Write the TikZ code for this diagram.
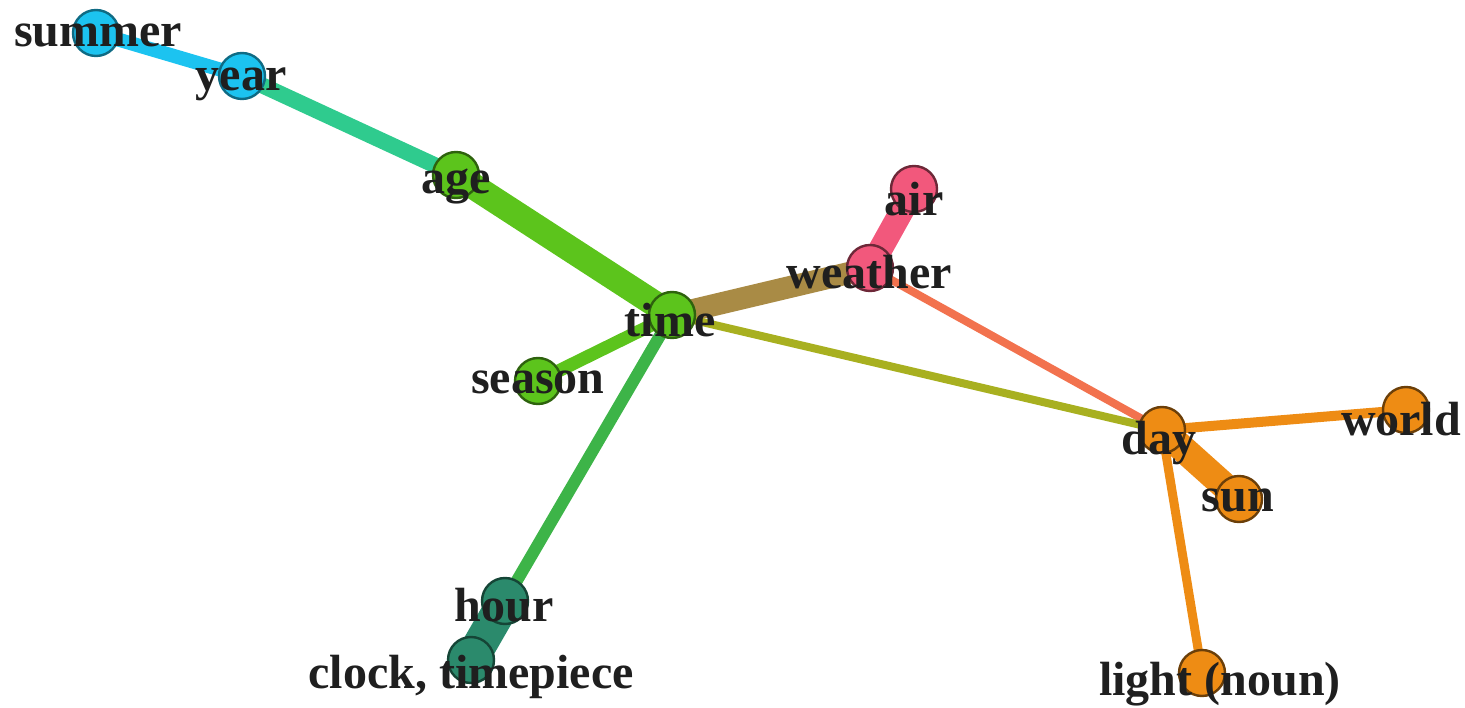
\documentclass[tikz,border=0pt]{standalone}
\usepackage{fontspec}
\setmainfont{Liberation Serif}
\begin{document}
\begin{tikzpicture}[x=1pt,y=-1pt,
  vert/.style={circle,draw,line width=2.4pt,minimum size=46pt,inner sep=0pt},
  lbl/.style={font=\fontsize{48}{50}\selectfont\bfseries,text=black!88,inner sep=0pt},
  link/.style={line cap=butt}]
\definecolor{cblue}{HTML}{1CC3F0}
\definecolor{cgreen}{HTML}{5CC41C}
\definecolor{cpink}{HTML}{F2587C}
\definecolor{corange}{HTML}{EE8C14}
\definecolor{cteal}{HTML}{2B8A6C}
\definecolor{eteal}{HTML}{2FCB8E}
\definecolor{ehour}{HTML}{3DB448}
\definecolor{ebrown}{HTML}{A98B45}
\definecolor{ecoral}{HTML}{F2724E}
\definecolor{eolive}{HTML}{A8B020}
\pgfdeclarelayer{bg}
\pgfsetlayers{bg,main}
\useasboundingbox (0,0) rectangle (1465,708);
% vertices
\node[vert,fill=cblue,draw=cblue!55!black] (summer) at (96,33) {};
\node[vert,fill=cblue,draw=cblue!55!black] (year) at (242,76) {};
\node[vert,fill=cgreen,draw=cgreen!50!black] (age) at (456,175) {};
\node[vert,fill=cgreen,draw=cgreen!50!black] (time) at (672,315) {};
\node[vert,fill=cgreen,draw=cgreen!50!black] (season) at (538,381) {};
\node[vert,fill=cpink,draw=cpink!45!black] (weather) at (870,268) {};
\node[vert,fill=cpink,draw=cpink!45!black] (air) at (914,189) {};
\node[vert,fill=corange,draw=corange!45!black] (day) at (1162,430) {};
\node[vert,fill=corange,draw=corange!45!black] (world) at (1406,410) {};
\node[vert,fill=corange,draw=corange!45!black] (sun) at (1239,499) {};
\node[vert,fill=corange,draw=corange!45!black] (light) at (1202,673) {};
\node[vert,fill=cteal,draw=cteal!50!black] (hour) at (505,601) {};
\node[vert,fill=cteal,draw=cteal!50!black] (clock) at (471,660) {};
% connectors, behind the vertices
\begin{pgfonlayer}{bg}
\draw[link,cblue,line width=14pt] (summer.center) -- (year.center);
\draw[link,eteal,line width=16pt] (year.center) -- (age.center);
\draw[link,cgreen,line width=26pt] (age.center) -- (time.center);
\draw[link,cgreen,line width=13pt] (time.center) -- (season.center);
\draw[link,ehour,line width=12pt] (time.center) -- (hour.center);
\draw[link,cteal,line width=34pt] (hour.center) -- (clock.center);
\draw[link,ebrown,line width=22pt] (time.center) -- (weather.center);
\draw[link,cpink,line width=24pt] (weather.center) -- (air.center);
\draw[link,ecoral,line width=8pt] (weather.center) -- (day.center);
\draw[link,eolive,line width=8pt] (time.center) -- (day.center);
\draw[link,corange,line width=10pt] (day.center) -- (world.center);
\draw[link,corange,line width=27pt] (day.center) -- (sun.center);
\draw[link,corange,line width=9pt] (day.center) -- (light.center);
\end{pgfonlayer}
% labels
\node[lbl] (tsummer) at (98,35) {summer};
\node[lbl] (tyear) at (241,84) {year};
\node[lbl] (tage) at (456,186) {age};
\node[lbl] (ttime) at (670,320) {time};
\node[lbl] (tseason) at (538,382) {season};
\node[lbl] (tweather) at (869,272) {weather};
\node[lbl] (tair) at (914,199) {air};
\node[lbl] (tday) at (1159,443) {day};
\node[lbl] (tworld) at (1401,419) {world};
\node[lbl] (tsun) at (1238,500) {sun};
\node[lbl] (tlight) at (1220,684) {light (noun)};
\node[lbl] (thour) at (504,605) {hour};
\node[lbl] (tclock) at (471,677) {clock, timepiece};
\end{tikzpicture}
\end{document}
